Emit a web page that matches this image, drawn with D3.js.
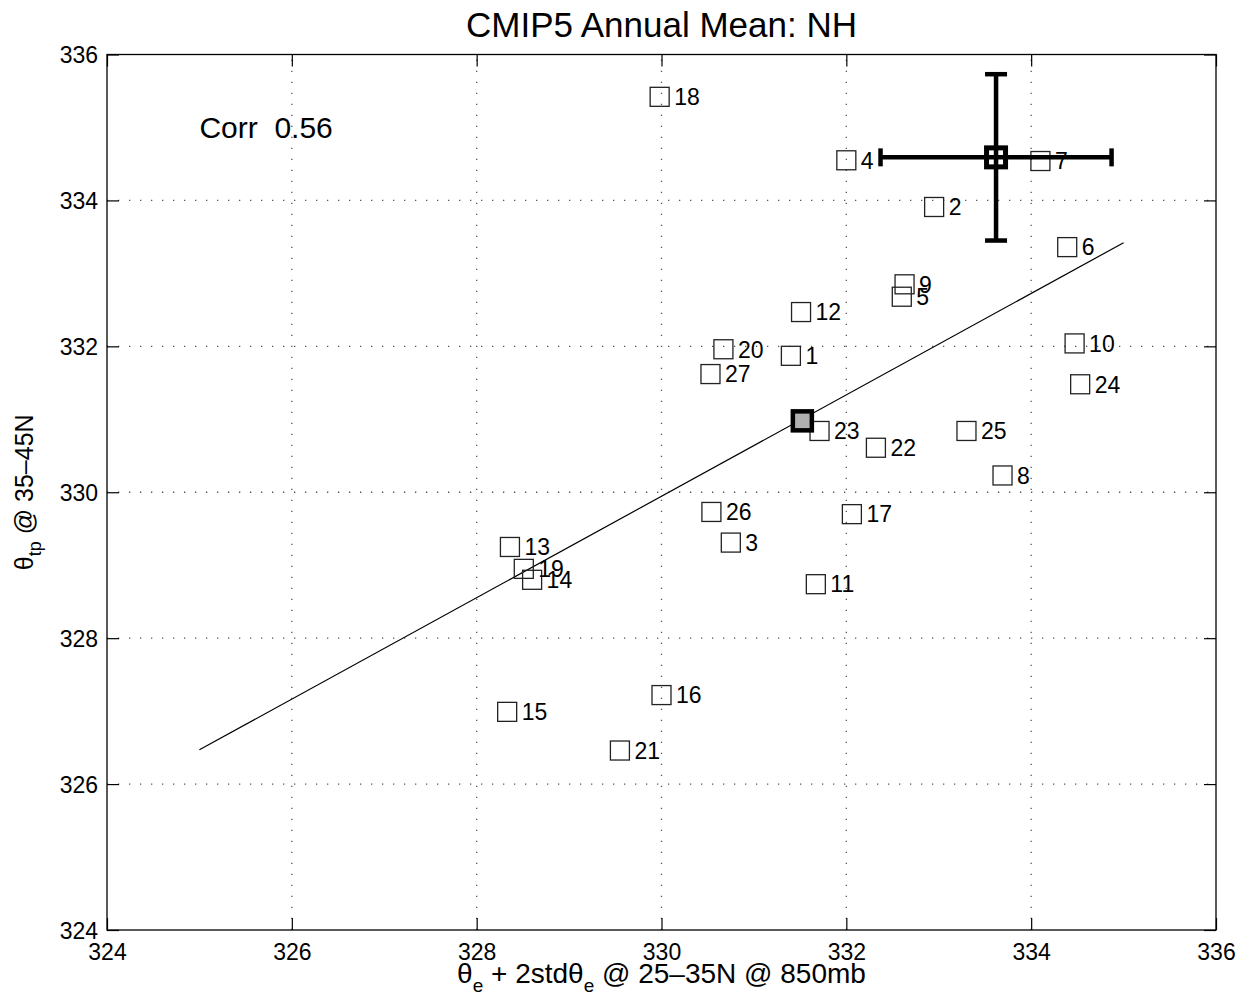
<!DOCTYPE html>
<html>
<head>
<meta charset="utf-8">
<script src="https://cdn.jsdelivr.net/npm/d3@7"></script>
<style>
  html, body { margin: 0; padding: 0; background: #fff; }
  svg text { font-family: "Liberation Sans", Arial, Helvetica, sans-serif; fill: #000; }
</style>
</head>
<body>
<svg id="chart" width="1249" height="998"></svg>
<script>
// Axis ticks
const xTicks = [324, 326, 328, 330, 332, 334, 336];
const yTicks = [324, 326, 328, 330, 332, 334, 336];

// CMIP5 models: id, theta_e + 2 std (25-35N, 850mb), theta_tp (35-45N)
const modelIds = [1, 2, 3, 4, 5, 6, 7, 8, 9, 10, 11, 12, 13, 14, 15, 16, 17, 18, 19, 20, 21, 22, 23, 24, 25, 26, 27];
const modelX = [331.40, 332.95, 330.75, 332.00, 332.60, 334.39, 334.10, 333.69, 332.63, 334.47,
                331.67, 331.51, 328.36, 328.60, 328.33, 330.00, 332.06, 329.98, 328.51, 330.67,
                329.55, 332.32, 331.71, 334.53, 333.30, 330.54, 330.53];
const modelY = [331.87, 333.91, 329.31, 334.55, 332.68, 333.36, 334.54, 330.23, 332.85, 332.04,
                328.74, 332.47, 329.25, 328.80, 326.99, 327.22, 329.70, 335.42, 328.95, 331.96,
                326.46, 330.61, 330.84, 331.48, 330.84, 329.73, 331.62];

// Observational estimate with error bars
const obsX = 333.62, obsY = 334.59;
const obsXErr = 1.25, obsYErr = 1.14;

// Least-squares fit line endpoints
const fitX = [325, 335];
const fitY = [326.47, 333.42];

const corrText = "Corr  0.56";
const corrPos = [325, 335];

const svg = d3.select("#chart");
const margin = { left: 107, top: 54.5, right: 33, bottom: 68 };
const W = 1249, H = 998;

const x = d3.scaleLinear().domain([324, 336]).range([margin.left, W - margin.right]);
const y = d3.scaleLinear().domain([324, 336]).range([H - margin.bottom, margin.top]);

const x0 = x.range()[0], x1 = x.range()[1];
const y0 = y.range()[0], y1 = y.range()[1];

// Dotted grid
const grid = svg.append("g").attr("stroke", "#555").attr("stroke-width", 1.3)
  .attr("stroke-dasharray", "1.3,9.7");
grid.selectAll("line.gx").data(xTicks.slice(1, -1)).join("line")
  .attr("x1", d => x(d)).attr("x2", d => x(d)).attr("y1", y0).attr("y2", y1);
grid.selectAll("line.gy").data(yTicks.slice(1, -1)).join("line")
  .attr("y1", d => y(d)).attr("y2", d => y(d)).attr("x1", x0).attr("x2", x1);

// Axes with inward ticks on all four sides
const tickLen = 12;
const axB = d3.axisBottom(x).tickValues(xTicks).tickSizeInner(-tickLen).tickSizeOuter(0).tickPadding(14);
const axT = d3.axisTop(x).tickValues(xTicks).tickSizeInner(-tickLen).tickSizeOuter(0).tickFormat("");
const axL = d3.axisLeft(y).tickValues(yTicks).tickSizeInner(-tickLen).tickSizeOuter(0).tickPadding(9);
const axR = d3.axisRight(y).tickValues(yTicks).tickSizeInner(-tickLen).tickSizeOuter(0).tickFormat("");

function styleAxis(g) {
  g.select(".domain").remove();
  g.selectAll(".tick line").attr("stroke", "#000").attr("stroke-width", 1.2);
  g.selectAll(".tick text").attr("font-size", 23).attr("fill", "#000")
    .attr("font-family", '"Liberation Sans", Arial, sans-serif');
}
svg.append("g").attr("transform", `translate(0,${y0})`).call(axB).call(styleAxis)
  .selectAll(".tick text").attr("dy", "0.71em");
svg.append("g").attr("transform", `translate(0,${y1})`).call(axT).call(styleAxis);
svg.append("g").attr("transform", `translate(${x0},0)`).call(axL).call(styleAxis)
  .selectAll(".tick text").attr("dy", "0.36em");
svg.append("g").attr("transform", `translate(${x1},0)`).call(axR).call(styleAxis);

// Frame
svg.append("rect").attr("x", x0).attr("y", y1).attr("width", x1 - x0).attr("height", y0 - y1)
  .attr("fill", "none").attr("stroke", "#000").attr("stroke-width", 1.3);

// Fit line
svg.append("line")
  .attr("x1", x(fitX[0])).attr("y1", y(fitY[0]))
  .attr("x2", x(fitX[1])).attr("y2", y(fitY[1]))
  .attr("stroke", "#000").attr("stroke-width", 1.2);

// Model markers and labels
const models = modelIds.map((id, i) => ({ id, x: modelX[i], y: modelY[i] }));
const ms = 19;
const mg = svg.append("g");
mg.selectAll("rect").data(models).join("rect")
  .attr("x", d => x(d.x) - ms / 2).attr("y", d => y(d.y) - ms / 2)
  .attr("width", ms).attr("height", ms)
  .attr("fill", "none").attr("stroke", "#222").attr("stroke-width", 1.3);
mg.selectAll("text").data(models).join("text")
  .attr("x", d => x(d.x) + ms / 2 + 5).attr("y", d => y(d.y))
  .attr("dy", "0.36em").attr("font-size", 23)
  .text(d => d.id);

// Multi-model mean
const meanX = d3.mean(modelX), meanY = d3.mean(modelY);
const mm = 19;
svg.append("rect")
  .attr("x", x(meanX) - mm / 2).attr("y", y(meanY) - mm / 2)
  .attr("width", mm).attr("height", mm)
  .attr("fill", "#b0b0b0").attr("stroke", "#000").attr("stroke-width", 4.5);

// Observation with error bars
const eb = svg.append("g").attr("stroke", "#000").attr("stroke-width", 4.5).attr("fill", "none");
const om = 19;
eb.append("rect")
  .attr("x", x(obsX) - om / 2).attr("y", y(obsY) - om / 2)
  .attr("width", om).attr("height", om).attr("fill", "#fff").attr("stroke-width", 5);
eb.append("line").attr("x1", x(obsX - obsXErr)).attr("x2", x(obsX + obsXErr))
  .attr("y1", y(obsY)).attr("y2", y(obsY));
eb.append("line").attr("x1", x(obsX)).attr("x2", x(obsX))
  .attr("y1", y(obsY - obsYErr)).attr("y2", y(obsY + obsYErr));
const capV = 11, capH = 9;
[obsX - obsXErr, obsX + obsXErr].forEach(v => {
  eb.append("line").attr("x1", x(v)).attr("x2", x(v))
    .attr("y1", y(obsY) - capH).attr("y2", y(obsY) + capH);
});
[obsY - obsYErr, obsY + obsYErr].forEach(v => {
  eb.append("line").attr("y1", y(v)).attr("y2", y(v))
    .attr("x1", x(obsX) - capV).attr("x2", x(obsX) + capV);
});

// Correlation annotation
svg.append("text").attr("x", x(corrPos[0])).attr("y", y(corrPos[1]))
  .attr("dy", "0.36em").attr("font-size", 30)
  .style("white-space", "pre").text(corrText);

// Title
svg.append("text").attr("x", (x0 + x1) / 2).attr("y", 37)
  .attr("text-anchor", "middle").attr("font-size", 35)
  .text("CMIP5 Annual Mean: NH");

// X axis label with subscripts
const xl = svg.append("text").attr("x", (x0 + x1) / 2).attr("y", 983)
  .attr("text-anchor", "middle").attr("font-size", 28).style("white-space", "pre");
xl.append("tspan").text("θ");
xl.append("tspan").attr("dy", 9).attr("font-size", 19).text("e");
xl.append("tspan").attr("dy", -9).text(" + 2stdθ");
xl.append("tspan").attr("dy", 9).attr("font-size", 19).text("e");
xl.append("tspan").attr("dy", -9).text(" @ 25\u201335N @ 850mb");

// Y axis label with subscript
const yl = svg.append("text")
  .attr("transform", `translate(33,${(y0 + y1) / 2}) rotate(-90)`)
  .attr("text-anchor", "middle").attr("font-size", 25).style("white-space", "pre");
yl.append("tspan").text("θ");
yl.append("tspan").attr("dy", 8).attr("font-size", 18).text("tp");
yl.append("tspan").attr("dy", -8).text(" @ 35\u201345N");
</script>
</body>
</html>
